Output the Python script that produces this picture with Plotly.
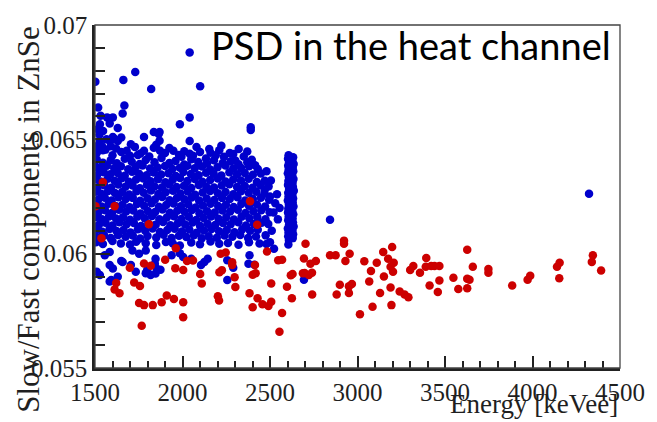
import plotly.graph_objects as go

# ---------------- data ----------------
x_tick_vals = [1500, 2000, 2500, 3000, 3500, 4000, 4500]
y_tick_vals = [0.055, 0.06, 0.065, 0.07]
y_tick_text = ["0.055", "0.06", "0.065", "0.07"]

# blue: scattered outliers / fringe of the main population
blue_outer_x = [2041, 1730, 1662, 1502, 1821, 2101, 1518, 1668, 1658, 1532, 1569, 1602,
                1528, 1584, 1985, 2041, 1546, 1630, 2390, 2390, 1836, 1869, 1780, 2041,
                1528, 1566, 1602, 1630, 1728, 1681, 1780, 1836, 1872, 1948, 1994, 2041,
                2153, 2222, 2321, 2396, 2302, 2237, 2134, 1584, 1612, 1650, 1869, 1864,
                1510, 1545, 1600, 1650, 1700, 1760, 1810, 1900, 1980, 2060, 2100, 2190,
                2270, 2350, 1510, 1525, 1515, 1540, 1560, 1590, 1620,
                1705, 1745, 1850, 1925, 2010, 2080, 2160, 2210, 2290, 2370,
                4323, 2843, 2694]
blue_outer_y = [0.06880, 0.06794, 0.06760, 0.06752, 0.06720, 0.06732, 0.06639, 0.06648,
                0.06613, 0.06603, 0.06596, 0.06596, 0.06566, 0.06569, 0.06566, 0.06596,
                0.06536, 0.06550, 0.06553, 0.06541, 0.06532, 0.06532, 0.06510, 0.06493,
                0.06493, 0.06500, 0.06510, 0.06493, 0.06467, 0.06450, 0.06450, 0.06463,
                0.06450, 0.06450, 0.06424, 0.06437, 0.06458, 0.06472, 0.06458, 0.06411,
                0.06407, 0.06424, 0.06416, 0.06494, 0.06501, 0.06508, 0.06494, 0.06523,
                0.06440, 0.06452, 0.06430, 0.06445, 0.06428, 0.06438, 0.06425, 0.06440,
                0.06432, 0.06428, 0.06445, 0.06430, 0.06440, 0.06425, 0.06470, 0.06520,
                0.06545, 0.06470, 0.06455, 0.06470, 0.06460,
                0.06478, 0.06432, 0.06476, 0.06462, 0.06448, 0.06466, 0.06441, 0.06452,
                0.06436, 0.06447,
                0.06262, 0.06148, 0.05886]

# blue: dense core of the population (1500-2500 keVee)
blue_core_x = [
    1510, 1545, 1590, 1625, 1670, 1710, 1755, 1790, 1840, 1880, 1925, 1960, 2010, 2050, 2090, 2140, 2180, 2230, 2275, 2320, 2370, 2415,
    1505, 1528, 1568, 1610, 1648, 1690, 1732, 1772, 1815, 1858, 1900, 1942, 1985, 2028, 2070, 2112, 2158, 2200, 2245, 2290, 2335, 2380, 2430,
    1512, 1550, 1588, 1630, 1670, 1712, 1752, 1795, 1836, 1878, 1920, 1962, 2005, 2048, 2092, 2135, 2178, 2222, 2268, 2312, 2356, 2402, 2448,
    1503, 1532, 1572, 1612, 1652, 1694, 1735, 1776, 1818, 1860, 1902, 1944, 1986, 2028, 2070, 2114, 2158, 2202, 2246, 2290, 2334, 2378, 2425, 2470,
    1515, 1553, 1592, 1633, 1674, 1715, 1756, 1797, 1840, 1882, 1924, 1966, 2008, 2050, 2093, 2136, 2180, 2224, 2268, 2312, 2356, 2400, 2446, 2492,
    1505, 1536, 1575, 1614, 1655, 1695, 1737, 1778, 1820, 1862, 1904, 1946, 1988, 2030, 2072, 2115, 2158, 2202, 2246, 2290, 2334, 2378, 2422, 2468,
    1518, 1556, 1595, 1634, 1676, 1716, 1758, 1800, 1842, 1884, 1926, 1968, 2010, 2052, 2095, 2138, 2182, 2226, 2270, 2314, 2358, 2402, 2448, 2495,
    1504, 1538, 1578, 1617, 1657, 1698, 1740, 1781, 1823, 1865, 1907, 1949, 1991, 2033, 2075, 2117, 2160, 2204, 2248, 2292, 2336, 2380, 2425, 2472,
    1520, 1558, 1597, 1637, 1678, 1719, 1760, 1802, 1844, 1886, 1928, 1970, 2012, 2054, 2097, 2140, 2184, 2228, 2272, 2316, 2360, 2405, 2450, 2498,
    1506, 1540, 1580, 1620, 1660, 1700, 1742, 1784, 1826, 1868, 1910, 1952, 1994, 2036, 2078, 2120, 2163, 2206, 2250, 2294, 2338, 2382, 2427, 2474,
    1522, 1560, 1600, 1640, 1680, 1722, 1763, 1805, 1847, 1889, 1931, 1973, 2015, 2057, 2100, 2143, 2187, 2231, 2275, 2319, 2363, 2408, 2452,
    1508, 1542, 1583, 1623, 1663, 1703, 1745, 1787, 1829, 1871, 1913, 1955, 1997, 2039, 2081, 2123, 2166, 2209, 2253, 2297, 2341, 2386, 2430,
    1512, 1552, 1590, 1632, 1675, 1716, 1758, 1800, 1850, 1892, 1938, 1980, 2022, 2065, 2110, 2150, 2196, 2240, 2285, 2330, 2375, 2420,
    1505, 1545, 1600, 1648, 1700, 1735, 1790, 1850, 1905, 1945, 1985, 2050, 2100, 2160, 2210, 2260, 2320, 2380, 2440,
    2470, 2500, 2530, 2520, 2545, 2490, 2510, 2540, 2555, 2505, 2480, 2475, 2500, 2523, 2480,
]
blue_core_y = [
    0.06412, 0.06398, 0.06408, 0.06395, 0.06415, 0.06402, 0.06392, 0.06410, 0.06400, 0.06418, 0.06396, 0.06405, 0.06390, 0.06413, 0.06401, 0.06394, 0.06409, 0.06397, 0.06404, 0.06391, 0.06400, 0.06387,
    0.06380, 0.06371, 0.06385, 0.06374, 0.06382, 0.06369, 0.06379, 0.06386, 0.06372, 0.06377, 0.06383, 0.06370, 0.06376, 0.06384, 0.06373, 0.06381, 0.06368, 0.06378, 0.06386, 0.06372, 0.06375, 0.06382, 0.06370,
    0.06344, 0.06356, 0.06347, 0.06353, 0.06341, 0.06358, 0.06349, 0.06343, 0.06355, 0.06346, 0.06352, 0.06340, 0.06357, 0.06348, 0.06343, 0.06354, 0.06350, 0.06342, 0.06356, 0.06347, 0.06353, 0.06345, 0.06351,
    0.06325, 0.06316, 0.06328, 0.06319, 0.06330, 0.06314, 0.06324, 0.06329, 0.06317, 0.06326, 0.06312, 0.06323, 0.06331, 0.06318, 0.06327, 0.06315, 0.06322, 0.06329, 0.06316, 0.06324, 0.06320, 0.06328, 0.06313, 0.06319,
    0.06290, 0.06299, 0.06288, 0.06302, 0.06293, 0.06298, 0.06286, 0.06301, 0.06294, 0.06289, 0.06303, 0.06292, 0.06297, 0.06287, 0.06300, 0.06293, 0.06289, 0.06298, 0.06304, 0.06291, 0.06296, 0.06288, 0.06299, 0.06294,
    0.06271, 0.06262, 0.06274, 0.06265, 0.06270, 0.06259, 0.06273, 0.06266, 0.06276, 0.06261, 0.06269, 0.06275, 0.06263, 0.06272, 0.06258, 0.06267, 0.06274, 0.06264, 0.06270, 0.06260, 0.06273, 0.06266, 0.06271, 0.06262,
    0.06236, 0.06245, 0.06233, 0.06247, 0.06239, 0.06244, 0.06231, 0.06242, 0.06237, 0.06248, 0.06234, 0.06243, 0.06238, 0.06246, 0.06232, 0.06241, 0.06235, 0.06244, 0.06239, 0.06247, 0.06233, 0.06240, 0.06245, 0.06236,
    0.06215, 0.06206, 0.06218, 0.06209, 0.06214, 0.06203, 0.06217, 0.06210, 0.06220, 0.06205, 0.06213, 0.06219, 0.06207, 0.06216, 0.06202, 0.06211, 0.06218, 0.06208, 0.06214, 0.06204, 0.06217, 0.06210, 0.06215, 0.06206,
    0.06181, 0.06190, 0.06178, 0.06192, 0.06184, 0.06189, 0.06176, 0.06187, 0.06182, 0.06193, 0.06179, 0.06188, 0.06183, 0.06191, 0.06177, 0.06186, 0.06180, 0.06189, 0.06184, 0.06192, 0.06178, 0.06185, 0.06190, 0.06181,
    0.06160, 0.06151, 0.06163, 0.06154, 0.06159, 0.06148, 0.06162, 0.06155, 0.06165, 0.06150, 0.06158, 0.06164, 0.06152, 0.06161, 0.06147, 0.06156, 0.06163, 0.06153, 0.06159, 0.06149, 0.06162, 0.06155, 0.06160, 0.06151,
    0.06126, 0.06135, 0.06123, 0.06137, 0.06129, 0.06134, 0.06121, 0.06132, 0.06127, 0.06138, 0.06124, 0.06133, 0.06128, 0.06136, 0.06122, 0.06131, 0.06125, 0.06134, 0.06129, 0.06137, 0.06123, 0.06130, 0.06135,
    0.06105, 0.06096, 0.06108, 0.06099, 0.06104, 0.06093, 0.06107, 0.06100, 0.06110, 0.06095, 0.06103, 0.06109, 0.06097, 0.06106, 0.06092, 0.06101, 0.06108, 0.06098, 0.06104, 0.06094, 0.06107, 0.06100, 0.06105,
    0.06072, 0.06080, 0.06068, 0.06082, 0.06074, 0.06079, 0.06066, 0.06077, 0.06071, 0.06083, 0.06069, 0.06078, 0.06073, 0.06081, 0.06067, 0.06076, 0.06070, 0.06079, 0.06074, 0.06082, 0.06068, 0.06075,
    0.06050, 0.06042, 0.06055, 0.06045, 0.06040, 0.06052, 0.06046, 0.06038, 0.06051, 0.06044, 0.06036, 0.06049, 0.06041, 0.06053, 0.06043, 0.06047, 0.06039, 0.06050, 0.06044,
    0.06280, 0.06250, 0.06220, 0.06180, 0.06150, 0.06130, 0.06100, 0.06260, 0.06200, 0.06320, 0.06360, 0.06080, 0.06050, 0.06021, 0.06042,
]

# blue: lower tail of the population
blue_tail_x = [1510, 1528, 1584, 1630, 1658, 1705, 1733, 1790, 1818, 1855, 1846, 1938,
               1985, 2050, 2144, 2256, 2290, 2383, 2411, 1584, 1602, 1650, 1593, 1556,
               1584, 1714, 1752, 1790, 1798, 1846, 1874, 1842, 2004, 2377, 2256, 2125, 2106]
blue_tail_y = [0.05921, 0.05907, 0.05878, 0.05899, 0.05964, 0.05950, 0.05921, 0.05914,
               0.05907, 0.05933, 0.05978, 0.05993, 0.06002, 0.05978, 0.05978, 0.05885,
               0.05938, 0.05993, 0.05952, 0.05950, 0.05935, 0.05968, 0.05885, 0.05993,
               0.06007, 0.06014, 0.06000, 0.06014, 0.05928, 0.05913, 0.05930, 0.05956,
               0.05985, 0.05956, 0.05971, 0.05964, 0.05950]

# blue: vertical band at ~2615 keVee
blue_band_x = [2606, 2603, 2609, 2604, 2607, 2602, 2608, 2605, 2603, 2609, 2604, 2606,
               2602, 2608, 2605, 2603, 2607, 2604, 2609, 2602, 2606, 2604, 2608, 2605,
               2632, 2628, 2635, 2630, 2633, 2627, 2634, 2629, 2631, 2636, 2628, 2632,
               2630, 2634, 2627, 2633, 2629, 2631, 2635, 2628, 2632, 2630]
blue_band_y = [0.06430, 0.06415, 0.06400, 0.06385, 0.06368, 0.06352, 0.06335, 0.06318,
               0.06300, 0.06283, 0.06266, 0.06250, 0.06232, 0.06215, 0.06198, 0.06180,
               0.06163, 0.06146, 0.06128, 0.06110, 0.06093, 0.06076, 0.06060, 0.06040,
               0.06422, 0.06406, 0.06392, 0.06376, 0.06360, 0.06343, 0.06326, 0.06309,
               0.06292, 0.06275, 0.06258, 0.06241, 0.06224, 0.06206, 0.06189, 0.06172,
               0.06155, 0.06137, 0.06119, 0.06102, 0.06085, 0.06068]

# red population
red_x = [1545, 1503, 1612, 2386, 1808, 2427, 1537, 1699, 1780, 1819, 1901, 1962, 1959,
         2004, 2026, 2060, 1724, 1757, 1621, 1612, 1640, 1752, 1780, 1830, 1881, 1910,
         1951, 2004, 2004, 1767, 2101, 2110, 2202, 2209, 2211, 2225, 2218, 2247, 2284,
         2284, 2298, 2302, 2383, 2401, 2401, 2418, 2414, 2429, 2457, 2491, 2507, 2483,
         2507, 2547, 2569, 2569, 2554, 2597, 2619, 2629, 2625, 2703, 2694, 2698, 2722,
         2740, 2731, 2762, 2741, 2688, 2923, 2923, 2843, 2875, 2955, 2931, 2899, 2881,
         2951, 2968, 2951, 3014, 3039, 3077, 3110, 3067, 3086, 3129, 3147, 3198, 3175,
         3207, 3189, 3203, 3151, 3189, 3194, 3241, 3269, 3291, 3301, 3319, 3357, 3393,
         3390, 3421, 3440, 3468, 3412, 3468, 3459, 3548, 3576, 3627, 3659, 3627, 3640,
         3627, 3748, 3748, 3884, 3972, 3987, 4140, 4155, 4153, 4345, 4339, 4392]
red_y = [0.06312, 0.06207, 0.06207, 0.06229, 0.06129, 0.06126, 0.06067, 0.05938, 0.05957,
         0.05947, 0.05973, 0.06024, 0.05936, 0.05929, 0.05968, 0.05970, 0.05874, 0.05859,
         0.05872, 0.05843, 0.05827, 0.05784, 0.05775, 0.05775, 0.05788, 0.05817, 0.05802,
         0.05788, 0.05722, 0.05685, 0.05911, 0.05870, 0.05814, 0.05795, 0.05919, 0.05928,
         0.06000, 0.06005, 0.05962, 0.05950, 0.05897, 0.05854, 0.05827, 0.05766, 0.05908,
         0.05914, 0.05950, 0.05805, 0.05779, 0.05771, 0.05790, 0.06009, 0.05870, 0.05971,
         0.05973, 0.05741, 0.05659, 0.05855, 0.05906, 0.05911, 0.05805, 0.06043, 0.05979,
         0.05915, 0.05907, 0.05917, 0.05956, 0.05968, 0.05821, 0.05914, 0.06057, 0.06043,
         0.05993, 0.05993, 0.06000, 0.05968, 0.05864, 0.05821, 0.05857, 0.05867, 0.05828,
         0.05735, 0.05967, 0.05924, 0.05960, 0.05878, 0.05768, 0.05828, 0.06007, 0.06029,
         0.05978, 0.05960, 0.05943, 0.05921, 0.05900, 0.05852, 0.05775, 0.05835, 0.05821,
         0.05809, 0.05929, 0.05946, 0.05917, 0.05981, 0.05943, 0.05946, 0.05946, 0.05946,
         0.05861, 0.05883, 0.05832, 0.05895, 0.05845, 0.06017, 0.05943, 0.05890, 0.05886,
         0.05849, 0.05933, 0.05917, 0.05861, 0.05886, 0.05903, 0.05943, 0.05960, 0.05892,
         0.05993, 0.05964, 0.05926]

# ---------------- figure ----------------
SERIF = "Liberation Serif"
TXT = "#1f1f1f"
MSIZE = 8.5

blue_x = blue_core_x + blue_tail_x + blue_band_x + blue_outer_x
blue_y = blue_core_y + blue_tail_y + blue_band_y + blue_outer_y

fig = go.Figure()
fig.add_trace(go.Scatter(x=blue_x, y=blue_y, mode="markers",
                         marker=dict(color="#0000cc", size=MSIZE, line=dict(width=0)),
                         hoverinfo="skip"))
fig.add_trace(go.Scatter(x=red_x, y=red_y, mode="markers",
                         marker=dict(color="#cc0000", size=MSIZE, line=dict(width=0)),
                         hoverinfo="skip"))

fig.update_layout(
    width=657, height=422,
    margin=dict(l=95, r=26, t=19, b=54),
    plot_bgcolor="white", paper_bgcolor="white",
    showlegend=False,
    xaxis=dict(range=[1500, 4500], tickvals=x_tick_vals,
               ticks="inside", ticklen=12, tickwidth=2, tickcolor="#222",
               minor=dict(ticks="inside", dtick=100, ticklen=7, tickwidth=2, tickcolor="#222"),
               showgrid=False, zeroline=False,
               showline=True, linewidth=2.5, linecolor="#222",
               tickfont=dict(family=SERIF, size=25, color=TXT)),
    yaxis=dict(range=[0.055, 0.07], tickvals=y_tick_vals, ticktext=y_tick_text,
               ticks="inside", ticklen=15, tickwidth=2, tickcolor="#222",
               minor=dict(ticks="inside", dtick=0.001, ticklen=10, tickwidth=2, tickcolor="#222"),
               showgrid=False, zeroline=False,
               showline=True, linewidth=2.5, linecolor="#222",
               tickfont=dict(family=SERIF, size=25, color=TXT)),
    shapes=[dict(type="rect", xref="paper", yref="paper", x0=0, x1=1, y0=0, y1=1,
                 line=dict(color="#444", width=1.3))],
    annotations=[
        dict(text="PSD in the heat channel", xref="paper", yref="paper",
             x=0.987, y=0.943, xanchor="right", yanchor="middle", showarrow=False,
             font=dict(family="Lato", size=38, color="black")),
        dict(text="Energy [keVee]", xref="paper", yref="paper",
             x=1.0, y=-0.106, xanchor="right", yanchor="middle", showarrow=False,
             font=dict(family=SERIF, size=27, color=TXT)),
        dict(text="Slow/Fast components in ZnSe", xref="paper", yref="paper",
             x=-0.127, y=0.433, xanchor="center", yanchor="middle", showarrow=False,
             textangle=-90, font=dict(family=SERIF, size=31, color=TXT)),
    ],
)

fig.write_html("out.html")
